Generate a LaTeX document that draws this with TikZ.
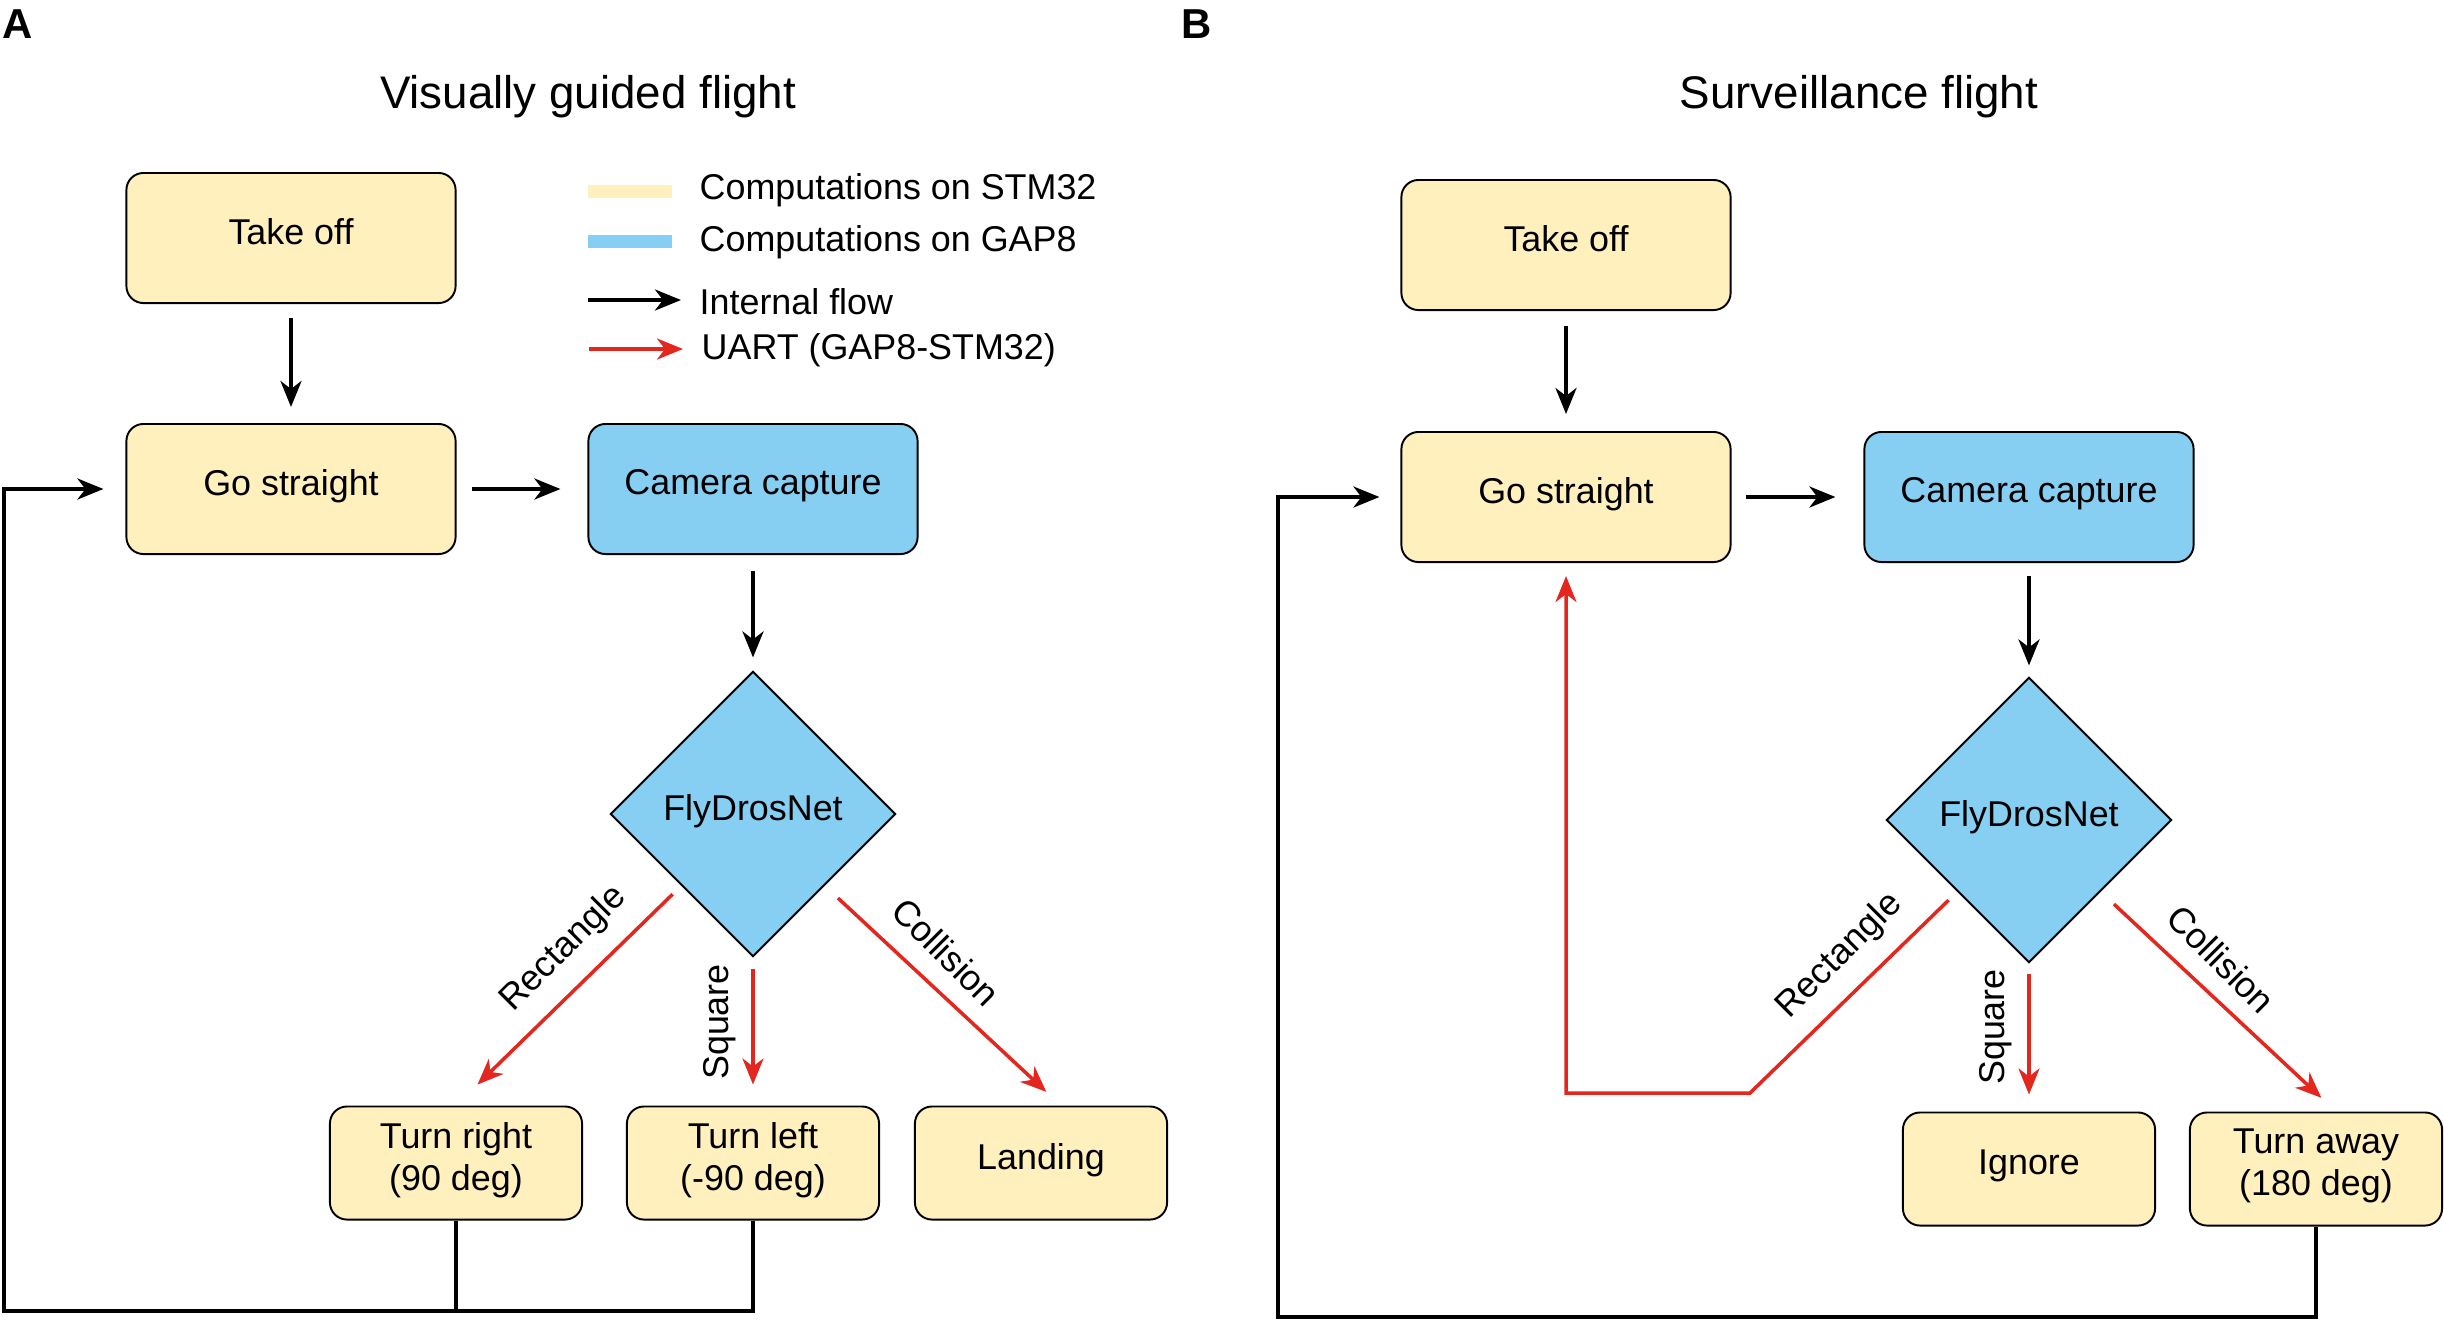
\documentclass[tikz,border=0pt]{standalone}
\usepackage{fontspec}
\setmainfont{Liberation Sans}
\usepackage{tikz}
\usetikzlibrary{shapes.geometric}
\usetikzlibrary{arrows.meta}
\usepackage{xcolor}
\definecolor{stmyellow}{RGB}{255,240,190}
\definecolor{gapblue}{RGB}{135,207,242}
\definecolor{uartred}{RGB}{227,38,30}
\tikzset{
  block/.style = {align=center, inner sep=0pt, text centered,
    font=\fontsize{10.2}{12}\selectfont, text depth=0.38em,
    draw=black, line width=0.55pt},
  box_stm/.style = {block, rectangle, rounded corners=0.17cm, fill=stmyellow,
    minimum width=3.29cm, minimum height=1.3cm},% calcul STM32, grand bloc
  box_stm_s/.style = {box_stm, minimum width=2.52cm,
    minimum height=1.13cm},% calcul STM32, petit bloc
  box_gap/.style = {block, rectangle, rounded corners=0.17cm, fill=gapblue,
    minimum width=3.29cm, minimum height=1.3cm},% calcul GAP8
  dia_gap/.style = {block, diamond, aspect=1, fill=gapblue,
    minimum width=2.85cm, minimum height=2.85cm},% reseau, GAP8
  arr_int/.style = {-{Stealth[length=0.26cm, width=0.21cm, inset=0.08cm]},
    line width=1.1pt, black},% flux interne
  arr_uart/.style = {arr_int, line width=1pt, uartred},% UART
  arr_line/.style = {line width=1.1pt, black},
  lbl/.style = {inner sep=0pt, font=\fontsize{10.2}{12}\selectfont},
  ttl/.style = {inner sep=0pt, font=\fontsize{13}{15}\selectfont, anchor=base},
  panel/.style = {inner sep=0pt, font=\bfseries\fontsize{11.9}{14}\selectfont,
    anchor=base west}
}

\begin{document}
\begin{tikzpicture}[x=0.01cm, y=-0.01cm]
\useasboundingbox (0,0) rectangle (2444,1320);

% A : vol guide par la vision
\node [panel] (labA) at (2,38) {A};
\node [ttl] (ttlA) at (588,108) {Visually guided flight};
\node [box_stm] (takeA) at (291,238) {Take off};
\node [box_stm] (goA) at (291,489) {Go straight};
\node [box_gap] (camA) at (753,489) {Camera capture};
\node [dia_gap] (flyA) at (753,814) {FlyDrosNet};
\node [box_stm_s] (rightA) at (456,1163) {Turn right\\(90 deg)};
\node [box_stm_s] (leftA) at (753,1163) {Turn left\\(-90 deg)};
\node [box_stm_s] (landA) at (1041,1163) {Landing};

% legende
\fill [stmyellow] (588,185) rectangle (672,198);
\fill [gapblue] (588,235) rectangle (672,248);
\coordinate (lgi1) at (588,300);
\coordinate (lgi2) at (681,300);
\coordinate (lgu1) at (589,349);
\coordinate (lgu2) at (683,349);
\draw [arr_int] (lgi1) -- (lgi2);
\draw [arr_uart] (lgu1) -- (lgu2);
\node [lbl, anchor=base west] (lgs) at (699,199) {Computations on STM32};
\node [lbl, anchor=base west] (lgg) at (699,251) {Computations on GAP8};
\node [lbl, anchor=base west] (lgi) at (699,314) {Internal flow};
\node [lbl, anchor=base west] (lgu) at (701,359) {UART (GAP8-STM32)};

\draw [arr_int, shorten <=0.14cm, shorten >=0.16cm] (takeA) -- (goA);
\draw [arr_int, shorten <=0.15cm, shorten >=0.27cm] (goA) -- (camA);
\draw [arr_int, shorten <=0.16cm, shorten >=0.13cm] (camA) -- (flyA);
\draw [arr_uart, shorten <=0.12cm, shorten >=0.3cm] (flyA.south west) -- (rightA.north);
\draw [arr_uart, shorten <=0.11cm, shorten >=0.21cm] (flyA.south) -- (leftA.north);
\draw [arr_uart, shorten <=0.18cm, shorten >=0.2cm] (flyA.south east) -- ([xshift=0.2cm]landA.north);
\node [lbl, rotate=45] (rlA) at (564,949) {Rectangle};
\node [lbl, rotate=90] (slA) at (720,1022) {Square};
\node [lbl, rotate=-45] (clA) at (946,952) {Collision};

\coordinate (loopA) at (4,1311);
\draw [arr_line] (rightA.south) -- (rightA.south |- loopA);
\draw [arr_int, shorten >=0.22cm] (leftA.south) |- (loopA) |- (goA.west);

% B : vol de surveillance
\node [panel] (labB) at (1181,38) {B};
\node [ttl] (ttlB) at (1859,108) {Surveillance flight};
\node [box_stm] (takeB) at (1566,245) {Take off};
\node [box_stm] (goB) at (1566,497) {Go straight};
\node [box_gap] (camB) at (2029,497) {Camera capture};
\node [dia_gap] (flyB) at (2029,820) {FlyDrosNet};
\node [box_stm_s] (ignB) at (2029,1169) {Ignore};
\node [box_stm_s] (awayB) at (2316,1169) {Turn away\\(180 deg)};

\draw [arr_int, shorten <=0.15cm, shorten >=0.17cm] (takeB) -- (goB);
\draw [arr_int, shorten <=0.14cm, shorten >=0.28cm] (goB) -- (camB);
\draw [arr_int, shorten <=0.13cm, shorten >=0.11cm] (camB) -- (flyB);
\coordinate (rectB) at (1750,1093);
\draw [arr_uart, shorten <=0.12cm, shorten >=0.13cm] (flyB.south west) -- (rectB) -| (goB.south);
\draw [arr_uart, shorten <=0.1cm, shorten >=0.17cm] (flyB.south) -- (ignB.north);
\draw [arr_uart, shorten <=0.18cm, shorten >=0.2cm] (flyB.south east) -- ([xshift=0.2cm]awayB.north);
\node [lbl, rotate=45] (rlB) at (1840,956) {Rectangle};
\node [lbl, rotate=90] (slB) at (1996,1027) {Square};
\node [lbl, rotate=-45] (clB) at (2221,959) {Collision};

\coordinate (loopB) at (1278,1317);
\draw [arr_int, shorten >=0.21cm] (awayB.south) |- (loopB) |- (goB.west);
\end{tikzpicture}
\end{document}
